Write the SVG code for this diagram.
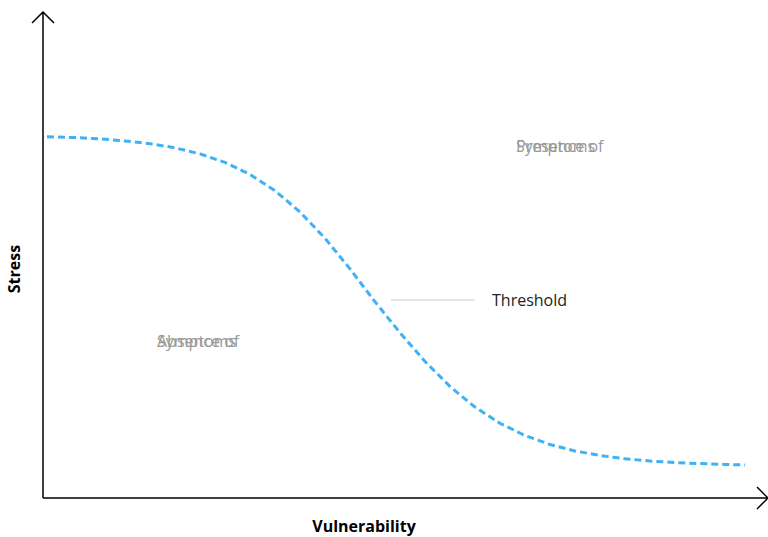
<svg xmlns="http://www.w3.org/2000/svg" width="768" height="537" viewBox="0 0 768 537">
<style>
.axis{stroke:#000;stroke-width:1.5;fill:none}
.lbl{font-family:"Open Sans",sans-serif;font-size:16px;font-weight:bold;fill:#000}
.zone{font-family:"Open Sans",sans-serif;font-size:16px;fill:#999}
.curve{fill:none;stroke:#3fb1f5;stroke-width:3;stroke-dasharray:7 4;stroke-linejoin:round}
</style>
<rect width="768" height="537" fill="#fff"/>
<g id="connectors">
<path class="axis" d="M43,498 V12 M32,23 L43,12 L54,23"/>
<path class="axis" d="M43,498 H768 M757,487 L768,498 L757,509"/>
<path class="curve" d="M47,136.7 L75,137.6 L100,138.9 L125,140.9 L150,143.7 L175,147.8 L200,153.9 L225,162.4 L250,174.5 L275,190.7 L300,212 L325,238.3 L350,268.9 L374,300.5 L400,332.7 L425,361.5 L450,386.5 L475,407.1 L500,423.3 L525,435.5 L550,444.5 L575,451 L600,455.5 L625,458.8 L650,461 L675,462.6 L700,463.6 L725,464.4 L745,465"/>
<line x1="391" y1="300" x2="475" y2="300" stroke="#ccc" stroke-width="1.2"/>
</g>
<g id="threshold"><text x="492" y="306" font-family="'Open Sans',sans-serif" font-size="16" fill="#222">Threshold</text></g>
<g id="presence"><text class="zone" x="516" y="152">Presence of</text><text class="zone" x="516" y="152">Symptoms</text></g>
<g id="absence"><text class="zone" x="157" y="347">Absence of</text><text class="zone" x="157" y="347">Symptoms</text></g>
<g id="xlabel"><text class="lbl" x="364" y="532" text-anchor="middle">Vulnerability</text></g>
<g id="ylabel"><text class="lbl" transform="translate(20,269) rotate(-90)" text-anchor="middle">Stress</text></g>
</svg>
